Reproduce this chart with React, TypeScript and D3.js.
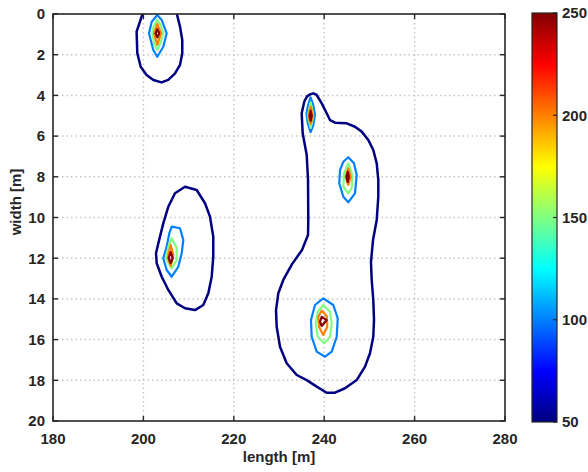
import React from "react";
import * as d3 from "d3";

// ---- axis ticks ----
const xTicks = [180, 200, 220, 240, 260, 280];
const yTicks = [0, 2, 4, 6, 8, 10, 12, 14, 16, 18, 20];
const cbTicks = [50, 100, 150, 200, 250];

// ---- contour levels ----
const levels = [50, 100, 150, 200, 250];

// ---- contour lines [length, width] ----
const peakA_50 = [[199.8,0],[198.5,0.87],[198.65,1.93],[199.4,2.59],[200.7,3.0],[202.2,3.24],[204.0,3.36],[205.5,3.24],[207.0,2.92],[208.1,2.5],[208.6,1.93],[208.6,1.28],[208.1,0.62],[207.4,0]];
const peakA_100 = [[203.07,0.05],[201.84,0.38],[201.24,0.95],[202.19,1.77],[203.07,2.1],[204.4,1.61],[205.15,0.95],[204.05,0.29]];
const peakA_150 = [[203.07,0.29],[202.3,0.6],[201.96,0.95],[202.4,1.45],[203.07,1.77],[203.8,1.4],[204.4,0.95],[203.8,0.55]];
const peakA_200 = [[203.07,0.49],[202.35,0.95],[203.07,1.52],[203.9,0.95]];
const peakA_250 = [[203.07,0.75],[202.7,0.95],[203.07,1.15],[203.5,0.95]];

const blob_50 = [[236.9,3.95],[237.6,3.9],[238.34,3.98],[239.45,4.39],[240.55,4.88],[241.28,5.21],[242.39,5.34],[244.98,5.37],[246.81,5.54],[248.3,5.78],[249.76,6.19],[250.86,6.68],[251.62,7.34],[251.97,8.16],[251.97,8.98],[251.62,10.12],[250.8,11.11],[250.35,12.19],[250.51,13.07],[250.86,14.05],[251.02,15.04],[250.86,15.86],[250.13,16.67],[249.03,17.33],[247.19,17.99],[244.6,18.39],[242.39,18.61],[240.55,18.61],[238.34,18.31],[236.13,17.99],[233.92,17.74],[231.7,17.16],[230.22,16.35],[229.49,15.37],[229.34,14.55],[229.85,13.72],[230.95,13.07],[232.88,12.29],[235.09,11.6],[236.42,10.86],[236.48,10.12],[236.42,8.16],[236.13,6.93],[235.24,5.86],[235.02,4.88],[235.6,4.3],[236.2,4.05]];

const peakB_100 = [[237.0,4.1],[237.6,4.5],[237.95,4.95],[237.6,5.45],[237.0,5.8],[236.4,5.4],[236.08,4.9],[236.4,4.5]];
const peakB_150 = [[237.0,4.35],[237.6,5.0],[237.0,5.6],[236.4,5.0]];
const peakB_200 = [[237.0,4.55],[237.45,5.0],[237.0,5.4],[236.55,5.0]];
const peakB_250 = [[237.0,4.75],[237.25,5.0],[237.0,5.25],[236.75,5.0]];

const peakC_100 = [[245.33,7.04],[246.59,7.34],[247.19,7.91],[246.81,8.81],[245.33,9.25],[244.23,8.98],[243.34,8.32],[243.5,7.67],[244.23,7.26]];
const peakC_150 = [[245.33,7.34],[246.22,7.91],[246.08,8.57],[245.33,8.81],[244.23,8.48],[244.38,7.83]];
const peakC_200 = [[245.33,7.58],[245.86,8.0],[245.33,8.4],[244.75,8.0]];
const peakC_250 = [[245.2,7.75],[245.45,8.0],[245.2,8.25],[244.95,8.0]];

const peakD_50 = [[209.2,8.49],[211.79,8.65],[213.63,9.3],[214.73,9.96],[215.46,10.94],[215.46,11.93],[215.11,12.91],[214.36,13.72],[213.25,14.3],[211.42,14.55],[209.2,14.46],[207.37,14.22],[205.51,13.56],[204.05,12.91],[202.94,12.25],[202.79,11.76],[203.3,11.27],[204.4,10.29],[205.51,9.47],[206.99,8.81]];
const peakD_100 = [[206.26,10.45],[208.1,10.53],[208.83,11.11],[208.47,11.76],[207.72,12.42],[206.26,12.91],[205.15,12.58],[204.4,12.0],[205.15,11.43],[205.73,10.78]];
const peakD_150 = [[206.26,11.02],[207.37,11.51],[207.37,12.09],[206.26,12.5],[205.0,12.0],[205.51,11.43]];
const peakD_200 = [[206.04,11.35],[206.62,11.84],[206.04,12.38],[205.38,11.96]];
const peakD_250 = [[206.04,11.7],[206.48,11.99],[206.04,12.24],[205.6,11.99]];

const peakE_100 = [[239.8,13.97],[242.01,14.3],[242.99,14.95],[242.77,15.86],[241.66,16.59],[240.18,16.84],[238.34,16.59],[237.23,15.86],[237.08,15.04],[237.96,14.3]];
const peakE_150 = [[239.8,14.3],[241.28,14.63],[241.66,15.2],[241.28,15.86],[240.02,16.18],[238.56,15.86],[238.12,15.2],[238.56,14.63]];
const peakE_200 = [[239.45,14.58],[240.55,14.84],[240.69,15.37],[239.8,15.77],[238.85,15.37],[238.69,14.87]];
const peakE_250 = [[239.45,14.88],[240.55,15.04],[239.45,15.33],[239.07,15.12]];

const contourLines = [
  { level: 50, pts: peakA_50, closed: false },
  { level: 50, pts: blob_50, closed: true },
  { level: 50, pts: peakD_50, closed: true },
  { level: 100, pts: peakA_100, closed: true },
  { level: 100, pts: peakB_100, closed: true },
  { level: 100, pts: peakC_100, closed: true },
  { level: 100, pts: peakD_100, closed: true },
  { level: 100, pts: peakE_100, closed: true },
  { level: 150, pts: peakA_150, closed: true },
  { level: 150, pts: peakB_150, closed: true },
  { level: 150, pts: peakC_150, closed: true },
  { level: 150, pts: peakD_150, closed: true },
  { level: 150, pts: peakE_150, closed: true },
  { level: 200, pts: peakA_200, closed: true },
  { level: 200, pts: peakB_200, closed: true },
  { level: 200, pts: peakC_200, closed: true },
  { level: 200, pts: peakD_200, closed: true },
  { level: 200, pts: peakE_200, closed: true },
  { level: 250, pts: peakA_250, closed: true },
  { level: 250, pts: peakB_250, closed: true },
  { level: 250, pts: peakC_250, closed: true },
  { level: 250, pts: peakD_250, closed: true },
  { level: 250, pts: peakE_250, closed: true },
];

// jet colormap
const jetStops = [0, 0.125, 0.375, 0.625, 0.875, 1];
const jetColors = ["#000080", "#0000ff", "#00ffff", "#ffff00", "#ff0000", "#800000"];
const jet = d3.scaleLinear<string>().domain(jetStops).range(jetColors).interpolate(d3.interpolateRgb);
const colorOf = (v: number) => jet((v - levels[0]) / (levels[levels.length - 1] - levels[0]));

const FONT = "'Liberation Sans', Arial, Helvetica, sans-serif";

export default function App() {
  const W = 588, H = 472;
  const x = d3.scaleLinear().domain([180, 280]).range([53, 505]);
  const y = d3.scaleLinear().domain([0, 20]).range([14, 421]);
  const cb = d3.scaleLinear().domain([50, 250]).range([422, 13]);
  const cbX0 = 532, cbX1 = 557;
  const [x0, x1] = x.range();
  const [y0, y1] = y.range();

  const lineGen = d3.line<number[]>().x((d) => x(d[0])).y((d) => y(d[1]));
  const closedGen = d3.line<number[]>().x((d) => x(d[0])).y((d) => y(d[1])).curve(d3.curveLinearClosed);

  const gradStops = d3.range(0, 1.0001, 1 / 64);
  const axisColor = "#262626";

  return (
    <svg width={W} height={H} style={{ position: "absolute", left: 0, top: 0, background: "#fff" }} fontFamily={FONT}>
      <defs>
        <linearGradient id="jetGrad" x1="0" y1="1" x2="0" y2="0">
          {gradStops.map((t, i) => (
            <stop key={i} offset={t} stopColor={jet(t)} />
          ))}
        </linearGradient>
        <clipPath id="plotClip">
          <rect x={x0} y={y0} width={x1 - x0} height={y1 - y0} />
        </clipPath>
      </defs>
      <rect x={x0} y={y0} width={x1 - x0} height={y1 - y0} fill="#fff" />
      {/* grid */}
      <g stroke="#c6c6c6" strokeWidth={1.5} strokeDasharray="1.5 3">
        {xTicks.slice(1, -1).map((t) => (
          <line key={"gx" + t} x1={x(t)} x2={x(t)} y1={y0} y2={y1} />
        ))}
        {yTicks.slice(1, -1).map((t) => (
          <line key={"gy" + t} x1={x0} x2={x1} y1={y(t)} y2={y(t)} />
        ))}
      </g>
      {/* contours */}
      <g clipPath="url(#plotClip)" fill="none" strokeLinejoin="round">
        {contourLines.map((c, i) => (
          <path key={i} d={(c.closed ? closedGen : lineGen)(c.pts) || ""} stroke={colorOf(c.level)} strokeWidth={c.level === 50 ? 2.5 : 2.2} />
        ))}
      </g>
      {/* axes box */}
      <rect x={x0} y={y0} width={x1 - x0} height={y1 - y0} fill="none" stroke={axisColor} strokeWidth={1.6} />
      <g stroke={axisColor} strokeWidth={1.4}>
        {xTicks.map((t) => (
          <g key={"tx" + t}>
            <line x1={x(t)} x2={x(t)} y1={y1} y2={y1 - 5} />
            <line x1={x(t)} x2={x(t)} y1={y0} y2={y0 + 5} />
          </g>
        ))}
        {yTicks.map((t) => (
          <g key={"ty" + t}>
            <line x1={x0} x2={x0 + 5} y1={y(t)} y2={y(t)} />
            <line x1={x1} x2={x1 - 5} y1={y(t)} y2={y(t)} />
          </g>
        ))}
      </g>
      <g fontSize={15} fontWeight="bold" fill={axisColor}>
        {xTicks.map((t) => (
          <text key={"lx" + t} x={x(t)} y={y1 + 23} textAnchor="middle">{t}</text>
        ))}
        {yTicks.map((t) => (
          <text key={"ly" + t} x={x0 - 8} y={y(t) + 5.3} textAnchor="end">{t}</text>
        ))}
        <text x={(x0 + x1) / 2} y={462} textAnchor="middle">length [m]</text>
        <text transform={`translate(21,202) rotate(-90)`} textAnchor="middle">width [m]</text>
      </g>
      {/* colorbar */}
      <rect x={cbX0} y={cb(250)} width={cbX1 - cbX0} height={cb(50) - cb(250)} fill="url(#jetGrad)" stroke={axisColor} strokeWidth={1.2} />
      <g stroke={axisColor} strokeWidth={1.2}>
        {cbTicks.map((t) => (
          <line key={"cbt" + t} x1={cbX1} x2={cbX1 - 4} y1={cb(t)} y2={cb(t)} />
        ))}
      </g>
      <g fontSize={15} fontWeight="bold" fill={axisColor}>
        {cbTicks.map((t) => (
          <text key={"cbl" + t} x={cbX1 + 5} y={cb(t) + 5.3}>{t}</text>
        ))}
      </g>
    </svg>
  );
}
